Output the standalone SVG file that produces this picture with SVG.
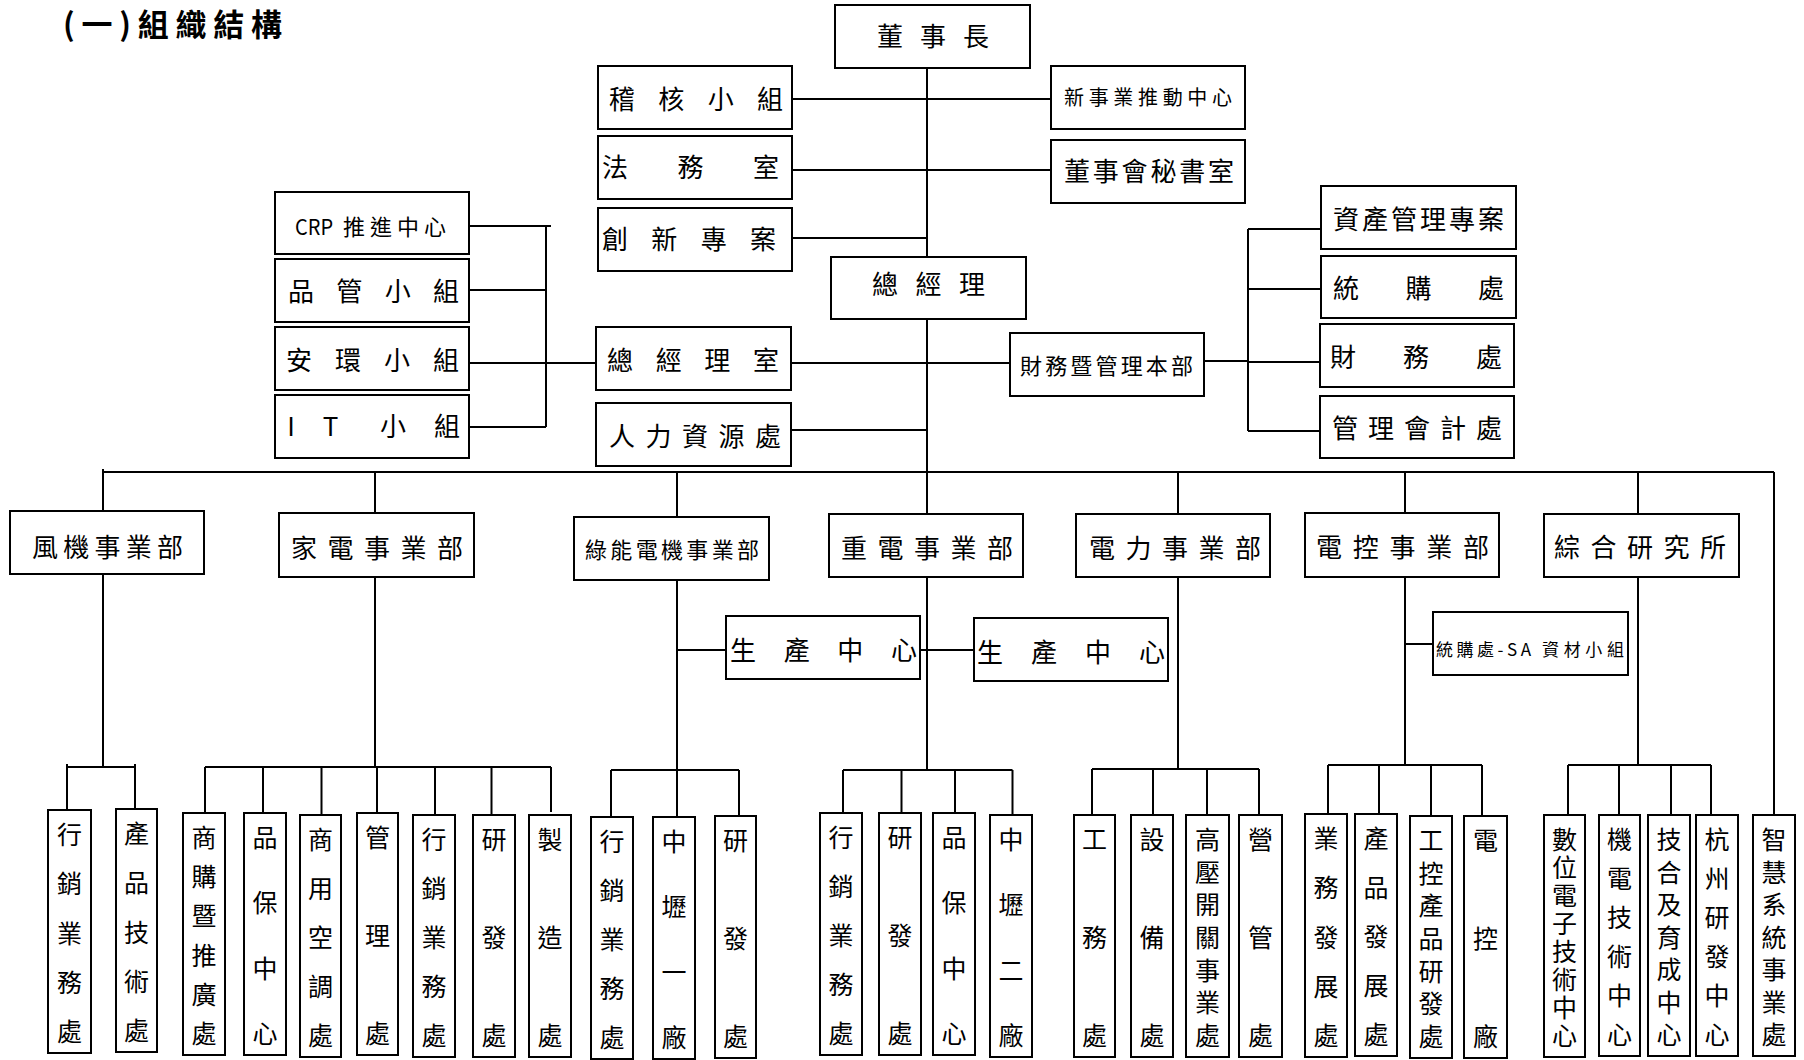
<svg xmlns="http://www.w3.org/2000/svg" width="1804" height="1060" viewBox="0 0 1804 1060">
<style>
.box{fill:#fff;stroke:#000;stroke-width:2}
.c path{fill:none;stroke:#000;stroke-width:2}
text{font-family:"Noto Sans CJK TC","Noto Sans CJK SC",sans-serif;fill:#000}
.f26{font-size:26px}
.f22{font-size:22px}
.f20{font-size:20px}
.f17{font-size:17px}
.v{font-size:25px;text-anchor:middle}
.title{font-size:31px;font-weight:700}
</style>
<rect width="1804" height="1060" fill="#fff"/>
<text class="title" x="63" y="36" textLength="219" lengthAdjust="spacing">(一)組織結構</text>

<g id="connectors" class="c">
<path d="M927 68V514M792 99H1051M792 170H1051M792 238H927M791 363H1010M791 430H927"/>
<path d="M546 226V427M469 226H551M470 290H546M470 363H596M470 427H546"/>
<path d="M1248 229V431M1204 361H1248M1248 229H1321M1248 289H1321M1248 362H1320M1248 431H1320"/>
<path d="M103 472H1774M103 469V511M375 472V513M677 472V517M1178 472V514M1405 472V513M1638 472V514M1774 472V815"/>
<path d="M103 574V767M67 767H135M67 764V810M135 764V809"/>
<path d="M375 577V767M205 767H551M205 767V813M263 767V813M321.5 767V815M377 767V813M435 767V815M491.5 767V815M551 767V812"/>
<path d="M677 580V817M611 770H739M611 770V817M739 770V816M677 650H726M920 650H974"/>
<path d="M927 577V770M843 770H1012.5M843 770V813M901.5 770V813M955 770V813M1012.5 770V815"/>
<path d="M1178 577V769M1092 769H1259M1092 769V815M1153 769V815M1207 769V815M1259 769V815"/>
<path d="M1405 577V765M1328 765H1482M1328 765V814M1379 765V814M1431 765V816M1482 765V816M1405 644H1433"/>
<path d="M1638 577V765M1568 765H1711M1568 765V815M1619 765V815M1671 765V815M1711 765V815"/>
</g>

<g id="n-chairman"><rect class="box" x="835" y="5" width="195" height="63"/><text class="f26" x="877" y="46" textLength="112" lengthAdjust="spacing">董事長</text></g>
<g id="n-audit"><rect class="box" x="598" y="66" width="194" height="63"/><text class="f26" x="609" y="109" textLength="174" lengthAdjust="spacing">稽核小組</text></g>
<g id="n-newbiz"><rect class="box" x="1051" y="66" width="194" height="63"/><text class="f20" x="1064" y="105" textLength="168" lengthAdjust="spacing">新事業推動中心</text></g>
<g id="n-legal"><rect class="box" x="598" y="136" width="194" height="63"/><text class="f26" x="602" y="177" textLength="177" lengthAdjust="spacing">法務室</text></g>
<g id="n-secretary"><rect class="box" x="1051" y="140" width="194" height="63"/><text class="f26" x="1064" y="181" textLength="170" lengthAdjust="spacing">董事會秘書室</text></g>
<g id="n-innovation"><rect class="box" x="598" y="208" width="194" height="63"/><text class="f26" x="602" y="249" textLength="174" lengthAdjust="spacing">創新專案</text></g>
<g id="n-president"><rect class="box" x="831" y="257" width="195" height="62"/><text class="f26" x="872" y="294" textLength="113" lengthAdjust="spacing">總經理</text></g>
<g id="n-crp"><rect class="box" x="275" y="192" width="194" height="62"/><text class="f22" y="235"><tspan x="295" textLength="38" lengthAdjust="spacingAndGlyphs">CRP</tspan> <tspan x="343" textLength="103" lengthAdjust="spacing">推進中心</tspan></text></g>
<g id="n-qc"><rect class="box" x="275" y="259" width="194" height="63"/><text class="f26" x="288" y="301" textLength="171" lengthAdjust="spacing">品管小組</text></g>
<g id="n-ehs"><rect class="box" x="275" y="327" width="194" height="63"/><text class="f26" x="286" y="370" textLength="173" lengthAdjust="spacing">安環小組</text></g>
<g id="n-it"><rect class="box" x="275" y="395" width="194" height="63"/><text class="f26" x="291 330.5 393 447" y="436" text-anchor="middle">IT小組</text></g>
<g id="n-pres-office"><rect class="box" x="596" y="327" width="195" height="63"/><text class="f26" x="607" y="370" textLength="172" lengthAdjust="spacing">總經理室</text></g>
<g id="n-hr"><rect class="box" x="596" y="403" width="195" height="63"/><text class="f26" x="609" y="446" textLength="172" lengthAdjust="spacing">人力資源處</text></g>
<g id="n-finmgmt"><rect class="box" x="1010" y="333" width="194" height="63"/><text class="f22" x="1020" y="374" textLength="173" lengthAdjust="spacing">財務暨管理本部</text></g>
<g id="n-asset"><rect class="box" x="1321" y="186" width="195" height="63"/><text class="f26" x="1333" y="229" textLength="171" lengthAdjust="spacing">資產管理專案</text></g>
<g id="n-purchase"><rect class="box" x="1321" y="256" width="195" height="62"/><text class="f26" x="1333" y="298" textLength="171" lengthAdjust="spacing">統購處</text></g>
<g id="n-finance"><rect class="box" x="1320" y="324" width="194" height="63"/><text class="f26" x="1330" y="367" textLength="172" lengthAdjust="spacing">財務處</text></g>
<g id="n-mgmtacct"><rect class="box" x="1320" y="396" width="194" height="62"/><text class="f26" x="1332" y="438" textLength="170" lengthAdjust="spacing">管理會計處</text></g>

<g id="n-fan"><rect class="box" x="10" y="511" width="194" height="63"/><text class="f26" x="32" y="557" textLength="151" lengthAdjust="spacing">風機事業部</text></g>
<g id="n-appliance"><rect class="box" x="279" y="513" width="195" height="64"/><text class="f26" x="291" y="558" textLength="172" lengthAdjust="spacing">家電事業部</text></g>
<g id="n-greenmotor"><rect class="box" x="574" y="517" width="195" height="63"/><text class="f22" x="585" y="558" textLength="174" lengthAdjust="spacing">綠能電機事業部</text></g>
<g id="n-heavy"><rect class="box" x="829" y="514" width="194" height="63"/><text class="f26" x="841" y="558" textLength="172" lengthAdjust="spacing">重電事業部</text></g>
<g id="n-power"><rect class="box" x="1076" y="514" width="194" height="63"/><text class="f26" x="1089" y="558" textLength="172" lengthAdjust="spacing">電力事業部</text></g>
<g id="n-control"><rect class="box" x="1305" y="513" width="194" height="64"/><text class="f26" x="1316" y="557" textLength="173" lengthAdjust="spacing">電控事業部</text></g>
<g id="n-research"><rect class="box" x="1544" y="514" width="195" height="63"/><text class="f26" x="1554" y="557" textLength="172" lengthAdjust="spacing">綜合研究所</text></g>
<g id="n-prod1"><rect class="box" x="726" y="616" width="194" height="63"/><text class="f26" x="730" y="660" textLength="187" lengthAdjust="spacing">生產中心</text></g>
<g id="n-prod2"><rect class="box" x="974" y="618" width="194" height="63"/><text class="f26" x="977" y="662" textLength="188" lengthAdjust="spacing">生產中心</text></g>
<g id="n-sa"><rect class="box" x="1433" y="612" width="195" height="63"/><text class="f17" y="656"><tspan x="1436" textLength="95" lengthAdjust="spacing">統購處-SA</tspan> <tspan x="1542" textLength="82" lengthAdjust="spacing">資材小組</tspan></text></g>

<g id="n-a1"><rect class="box" x="48" y="810" width="43" height="243"/><text class="v" x="69.5 69.5 69.5 69.5 69.5" y="844 893 942.5 992 1041">行銷業務處</text></g>
<g id="n-a2"><rect class="box" x="116" y="809" width="41" height="243"/><text class="v" x="136.5 136.5 136.5 136.5 136.5" y="843 892 941.5 991 1040">產品技術處</text></g>

<g id="n-b1"><rect class="box" x="183" y="813" width="42" height="242"/><text class="v" x="204 204 204 204 204 204" y="847 886 925.4 964.6 1003.8 1043">商購暨推廣處</text></g>
<g id="n-b2"><rect class="box" x="244" y="813" width="42" height="242"/><text class="v" x="265 265 265 265" y="847 912.3 977.7 1043">品保中心</text></g>
<g id="n-b3"><rect class="box" x="300" y="815" width="41" height="242"/><text class="v" x="320.5 320.5 320.5 320.5 320.5" y="849 898 947 996 1045">商用空調處</text></g>
<g id="n-b4"><rect class="box" x="357" y="813" width="41" height="242"/><text class="v" x="377.5 377.5 377.5" y="847 945 1043">管理處</text></g>
<g id="n-b5"><rect class="box" x="413" y="815" width="42" height="242"/><text class="v" x="434 434 434 434 434" y="849 898 947 996 1045">行銷業務處</text></g>
<g id="n-b6"><rect class="box" x="473" y="815" width="42" height="242"/><text class="v" x="494 494 494" y="849 947 1045">研發處</text></g>
<g id="n-b7"><rect class="box" x="529" y="815" width="42" height="242"/><text class="v" x="550 550 550" y="849 947 1045">製造處</text></g>

<g id="n-c1"><rect class="box" x="591" y="817" width="42" height="242"/><text class="v" x="612 612 612 612 612" y="851 900 949 998 1047">行銷業務處</text></g>
<g id="n-c2"><rect class="box" x="653" y="817" width="42" height="242"/><text class="v" x="674 674 674 674" y="851 916.3 981.7 1047">中壢一廠</text></g>
<g id="n-c3"><rect class="box" x="715" y="816" width="41" height="242"/><text class="v" x="735.5 735.5 735.5" y="850 948 1046">研發處</text></g>

<g id="n-d1"><rect class="box" x="820" y="813" width="42" height="242"/><text class="v" x="841 841 841 841 841" y="847 896 945 994 1043">行銷業務處</text></g>
<g id="n-d2"><rect class="box" x="879" y="813" width="42" height="242"/><text class="v" x="900 900 900" y="847 945 1043">研發處</text></g>
<g id="n-d3"><rect class="box" x="933" y="813" width="42" height="242"/><text class="v" x="954 954 954 954" y="847 912.3 977.7 1043">品保中心</text></g>
<g id="n-d4"><rect class="box" x="990" y="815" width="42" height="242"/><text class="v" x="1011 1011 1011 1011" y="849 914.3 979.7 1045">中壢二廠</text></g>

<g id="n-e1"><rect class="box" x="1074" y="815" width="41" height="242"/><text class="v" x="1094.5 1094.5 1094.5" y="849 947 1045">工務處</text></g>
<g id="n-e2"><rect class="box" x="1131" y="815" width="42" height="242"/><text class="v" x="1152 1152 1152" y="849 947 1045">設備處</text></g>
<g id="n-e3"><rect class="box" x="1186" y="815" width="43" height="242"/><text class="v" x="1207.5 1207.5 1207.5 1207.5 1207.5 1207.5 1207.5" y="849 881.7 914.3 947 979.7 1012.3 1045">高壓開關事業處</text></g>
<g id="n-e4"><rect class="box" x="1239" y="815" width="43" height="242"/><text class="v" x="1260.5 1260.5 1260.5" y="849 947 1045">營管處</text></g>

<g id="n-f1"><rect class="box" x="1305" y="814" width="42" height="243"/><text class="v" x="1326 1326 1326 1326 1326" y="848 897 946.5 996 1045">業務發展處</text></g>
<g id="n-f2"><rect class="box" x="1355" y="814" width="42" height="242"/><text class="v" x="1376 1376 1376 1376 1376" y="848 897 946 995 1044">產品發展處</text></g>
<g id="n-f3"><rect class="box" x="1410" y="816" width="42" height="242"/><text class="v" x="1431 1431 1431 1431 1431 1431 1431" y="850 882.7 915.3 948 980.7 1013.3 1046">工控產品研發處</text></g>
<g id="n-f4"><rect class="box" x="1464" y="816" width="43" height="242"/><text class="v" x="1485.5 1485.5 1485.5" y="850 948 1046">電控廠</text></g>

<g id="n-g1"><rect class="box" x="1544" y="815" width="41" height="242"/><text class="v" x="1564.5 1564.5 1564.5 1564.5 1564.5 1564.5 1564.5 1564.5" y="849 877 905 933 961 989 1017 1045">數位電子技術中心</text></g>
<g id="n-g2"><rect class="box" x="1599" y="815" width="41" height="241"/><text class="v" x="1619.5 1619.5 1619.5 1619.5 1619.5 1619.5" y="849 888 927 966 1005 1044">機電技術中心</text></g>
<g id="n-g3"><rect class="box" x="1648" y="815" width="42" height="241"/><text class="v" x="1669 1669 1669 1669 1669 1669 1669" y="849 881.5 914 946.5 979 1011.5 1044">技合及育成中心</text></g>
<g id="n-g4"><rect class="box" x="1696" y="815" width="42" height="241"/><text class="v" x="1717 1717 1717 1717 1717 1717" y="849 888 927 966 1005 1044">杭州研發中心</text></g>
<g id="n-g5"><rect class="box" x="1753" y="815" width="42" height="241"/><text class="v" x="1774 1774 1774 1774 1774 1774 1774" y="849 881.5 914 946.5 979 1011.5 1044">智慧系統事業處</text></g>
</svg>
